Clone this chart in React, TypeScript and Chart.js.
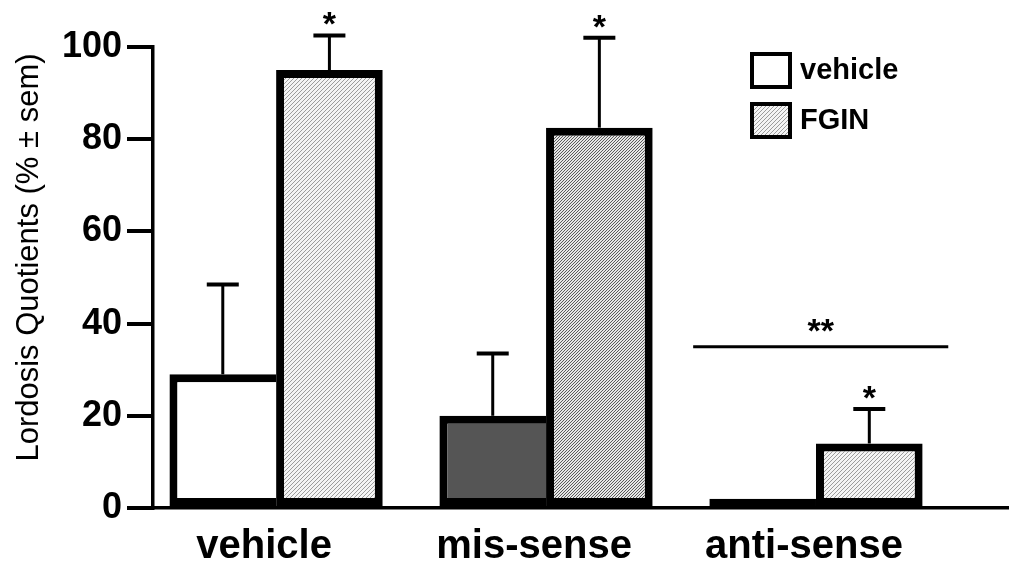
import React, { useEffect, useRef } from "react";
import { Chart, registerables } from "chart.js";

Chart.register(...registerables);

// ---------------- data ----------------
const categories = ["vehicle", "mis-sense", "anti-sense"];
const seriesLabels = ["vehicle", "FGIN"];
const vehicleValues = [29, 20, 2];
const vehicleErrors = [19.5, 13.5, 0];
const fginValues = [95, 82.5, 14];
const fginErrors = [7.5, 19.5, 7.5];
const fginStars = ["*", "*", "*"];
const yTicks = [0, 20, 40, 60, 80, 100];
const yTitle = "Lordosis Quotients (% ± sem)";
const sigLabel = "**";
const sigLevel = [35];
const sigSpan = [1.545, 2.49];

const FONT = '"Liberation Sans", Arial, Helvetica, sans-serif';

function makeHatch(bg: string, line: string, size: number, width: number) {
  const c = document.createElement("canvas");
  c.width = size;
  c.height = size;
  const g = c.getContext("2d")!;
  g.fillStyle = bg;
  g.fillRect(0, 0, size, size);
  g.strokeStyle = line;
  g.lineWidth = width;
  g.beginPath();
  g.moveTo(0, size);
  g.lineTo(size, 0);
  g.moveTo(-1, 1);
  g.lineTo(1, -1);
  g.moveTo(size - 1, size + 1);
  g.lineTo(size + 1, size - 1);
  g.stroke();
  return g.createPattern(c, "repeat") as CanvasPattern;
}

export default function App() {
  const ref = useRef<HTMLCanvasElement | null>(null);

  useEffect(() => {
    const canvas = ref.current;
    if (!canvas) return;
    const light = makeHatch("#f4f4f4", "#9c9c9c", 4, 1);
    const dark = makeHatch("#e6e6e6", "#5a5a5a", 3, 1);
    const vehicleFillLegend = "#ffffff";

    const errorPlugin = {
      id: "errorBars",
      afterDatasetsDraw(chart: any) {
        const ctx = chart.ctx;
        const ys = chart.scales.y;
        const xs = chart.scales.x;
        const errs = [vehicleErrors, fginErrors];
        const vals = [vehicleValues, fginValues];
        ctx.save();
        ctx.strokeStyle = "#000";
        ctx.fillStyle = "#000";
        chart.data.datasets.forEach((ds: any, di: number) => {
          const meta = chart.getDatasetMeta(di);
          meta.data.forEach((el: any, i: number) => {
            const e = errs[di][i];
            if (!e) return;
            const top = ys.getPixelForValue(vals[di][i] + e);
            const base = ys.getPixelForValue(vals[di][i]);
            ctx.lineWidth = 3;
            ctx.beginPath();
            ctx.moveTo(el.x, base);
            ctx.lineTo(el.x, top);
            ctx.stroke();
            ctx.lineWidth = 4;
            ctx.beginPath();
            ctx.moveTo(el.x - 16, top);
            ctx.lineTo(el.x + 16, top);
            ctx.stroke();
            if (di === 1 && fginStars[i]) {
              ctx.font = `bold 34px ${FONT}`;
              ctx.textAlign = "center";
              ctx.textBaseline = "alphabetic";
              ctx.fillText(fginStars[i], el.x, top);
            }
          });
        });
        // significance line
        const y = ys.getPixelForValue(sigLevel[0]);
        const x1 = xs.getPixelForValue(sigSpan[0]);
        const x2 = xs.getPixelForValue(sigSpan[1]);
        ctx.lineWidth = 3;
        ctx.beginPath();
        ctx.moveTo(x1, y);
        ctx.lineTo(x2, y);
        ctx.stroke();
        ctx.font = `bold 34px ${FONT}`;
        ctx.textAlign = "center";
        ctx.textBaseline = "alphabetic";
        ctx.fillText(sigLabel, (x1 + x2) / 2, y - 5);

        // y title
        const ca = chart.chartArea;
        ctx.save();
        ctx.translate(29, (ca.top + ca.bottom) / 2 - 20);
        ctx.rotate(-Math.PI / 2);
        ctx.font = `31px ${FONT}`;
        ctx.textAlign = "center";
        ctx.textBaseline = "middle";
        ctx.fillText(yTitle, 0, 0);
        ctx.restore();

        // legend
        const fills = [vehicleFillLegend, light];
        const lx = ca.right - 257;
        seriesLabels.forEach((lab, i) => {
          const by = ca.top + 7 + i * 50;
          ctx.fillStyle = fills[i];
          ctx.fillRect(lx, by, 38, 33);
          ctx.lineWidth = 4;
          ctx.strokeStyle = "#000";
          ctx.strokeRect(lx, by, 38, 33);
          ctx.fillStyle = "#000";
          ctx.font = `bold 29px ${FONT}`;
          ctx.textAlign = "left";
          ctx.textBaseline = "middle";
          ctx.fillText(lab, lx + 48, by + 17);
        });
        ctx.restore();
      },
    };

    const chart = new Chart(canvas, {
      type: "bar",
      data: {
        datasets: [
          {
            label: seriesLabels[0],
            data: vehicleValues.map((v, i) => ({ x: i, y: v })),
            backgroundColor: ["#ffffff", "#555555", "#000000"],
            borderColor: "#000",
            borderWidth: { top: 8, left: 8, bottom: 8, right: 0 },
            borderSkipped: false,
          },
          {
            label: seriesLabels[1],
            data: fginValues.map((v, i) => ({ x: i, y: v })),
            backgroundColor: [light, dark, light],
            borderColor: "#000",
            borderWidth: 8,
            borderSkipped: false,
          },
        ],
      } as any,
      options: {
        animation: false,
        responsive: false,
        devicePixelRatio: 1,
        layout: { padding: { top: 47, right: 0, bottom: 0, left: 0 } },
        datasets: { bar: { categoryPercentage: 0.79, barPercentage: 1 } },
        plugins: {
          legend: { display: false },
          tooltip: { enabled: false },
        },
        scales: {
          x: {
            type: "linear",
            offset: false,
            min: -0.456,
            max: 2.715,
            grid: { display: false, drawTicks: false, offset: false },
            border: { display: true, color: "#000", width: 3.5 },
            afterBuildTicks: (s: any) => {
              s.ticks = categories.map((_, i) => ({ value: i }));
            },
            afterFit: (s: any) => {
              s.height = 64;
            },
            ticks: {
              autoSkip: false,
              maxRotation: 0,
              padding: 15,
              labelOffset: -12,
              color: "#000",
              font: { family: FONT, size: 40, weight: "bold" },
              callback: (v: any) => categories[v] ?? "",
            },
          },
          y: {
            min: 0,
            max: 100,
            afterBuildTicks: (s: any) => {
              s.ticks = yTicks.map((v) => ({ value: v }));
            },
            afterFit: (s: any) => {
              s.width = 153;
            },
            grid: {
              display: true,
              drawOnChartArea: false,
              drawTicks: true,
              tickLength: 26,
              color: "#000",
              lineWidth: 4,
            },
            border: { display: true, color: "#000", width: 3.5 },
            ticks: {
              padding: 5,
              color: "#000",
              font: { family: FONT, size: 36, weight: "bold" },
            },
          },
        },
      } as any,
      plugins: [errorPlugin],
    });
    return () => chart.destroy();
  }, []);

  return (
    <div style={{ position: "fixed", left: 0, top: 0, width: 1009, height: 572, background: "#fff" }}>
      <canvas ref={ref} width={1009} height={572} />
    </div>
  );
}
